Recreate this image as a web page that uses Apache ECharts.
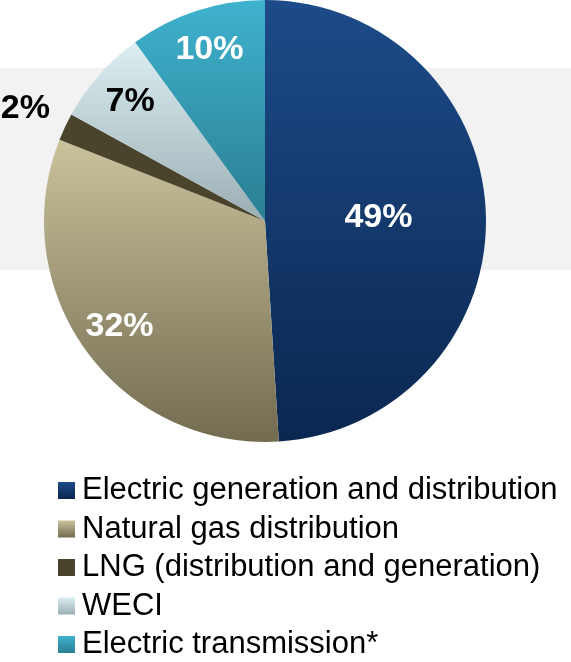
<!DOCTYPE html>
<html>
<head>
<meta charset="utf-8">
<script src="https://cdn.jsdelivr.net/npm/echarts@6/dist/echarts.min.js"></script>
<style>html,body{margin:0;padding:0;background:#fff}#c{width:571px;height:662px}</style>
</head>
<body>
<div id="c"></div>
<script>
var categories = ['Electric generation and distribution','Natural gas distribution','LNG (distribution and generation)','WECI','Electric transmission*'];
var values = [49, 32, 2, 7, 10];
var colorTop = ['#1d4b89', '#cac29a', '#4a442c', '#dbeff3', '#3fb2ce'];
var colorBottom = ['#0a2750', '#726b50', '#4a442c', '#9aaeb3', '#2b7e92'];
var labelColors = ['#ffffff', '#ffffff', '#000000', '#000000', '#ffffff'];

function grad(i){
  return {type:'linear', x:0, y:0, x2:0, y2:1, colorStops:[{offset:0,color:colorTop[i]},{offset:1,color:colorBottom[i]}]};
}
var FONT = 'Liberation Sans, Arial, sans-serif';
var R = 221;
var C = [265, 221];
// which ring each label sits on: 0 = half radius (main), 1 = 0.8 radius, 2 = outside
var labelRing = [0, 1, 2, 1, 1];

function mkData(ring, transparent){
  return categories.map(function(n,i){
    return {
      name: n, value: values[i],
      itemStyle: transparent ? {color:'rgba(0,0,0,0)'} : {color: grad(i)},
      label: {show: labelRing[i] === ring, color: labelColors[i]}
    };
  });
}
var labelBase = {position:'inside', formatter:'{c}%', fontSize:34, fontWeight:'bold', fontFamily:FONT};

var chart = echarts.init(document.getElementById('c'), null, {renderer:'canvas'});
chart.setOption({
  animation:false,
  graphic:[{type:'rect', z:-10, silent:true, shape:{x:0,y:68,width:571,height:202}, style:{fill:'#f2f2f2'}}],
  legend:{
    data: categories, orient:'vertical', left:58, top:475, height:190, padding:0,
    icon:'rect', itemWidth:17, itemHeight:17, itemGap:7.5,
    textStyle:{fontSize:31, color:'#000', fontFamily:FONT, padding:[0,0,0,2]},
    selectedMode:false
  },
  series:[
    {type:'pie', center:C, radius:[0,R], startAngle:90, clockwise:true, avoidLabelOverlap:false,
     label: labelBase, labelLine:{show:false}, emphasis:{disabled:true}, data: mkData(0,false)},
    {type:'pie', name:'lab1', center:C, radius:[0,R*1.6], startAngle:90, silent:true, avoidLabelOverlap:false,
     label: labelBase, labelLine:{show:false}, emphasis:{disabled:true}, data: mkData(1,true), z:5},
    {type:'pie', name:'lab2', center:C, radius:[0,R*2.37], startAngle:90, silent:true, avoidLabelOverlap:false,
     label: labelBase, labelLine:{show:false}, emphasis:{disabled:true}, data: mkData(2,true), z:5}
  ]
});
</script>
</body>
</html>
